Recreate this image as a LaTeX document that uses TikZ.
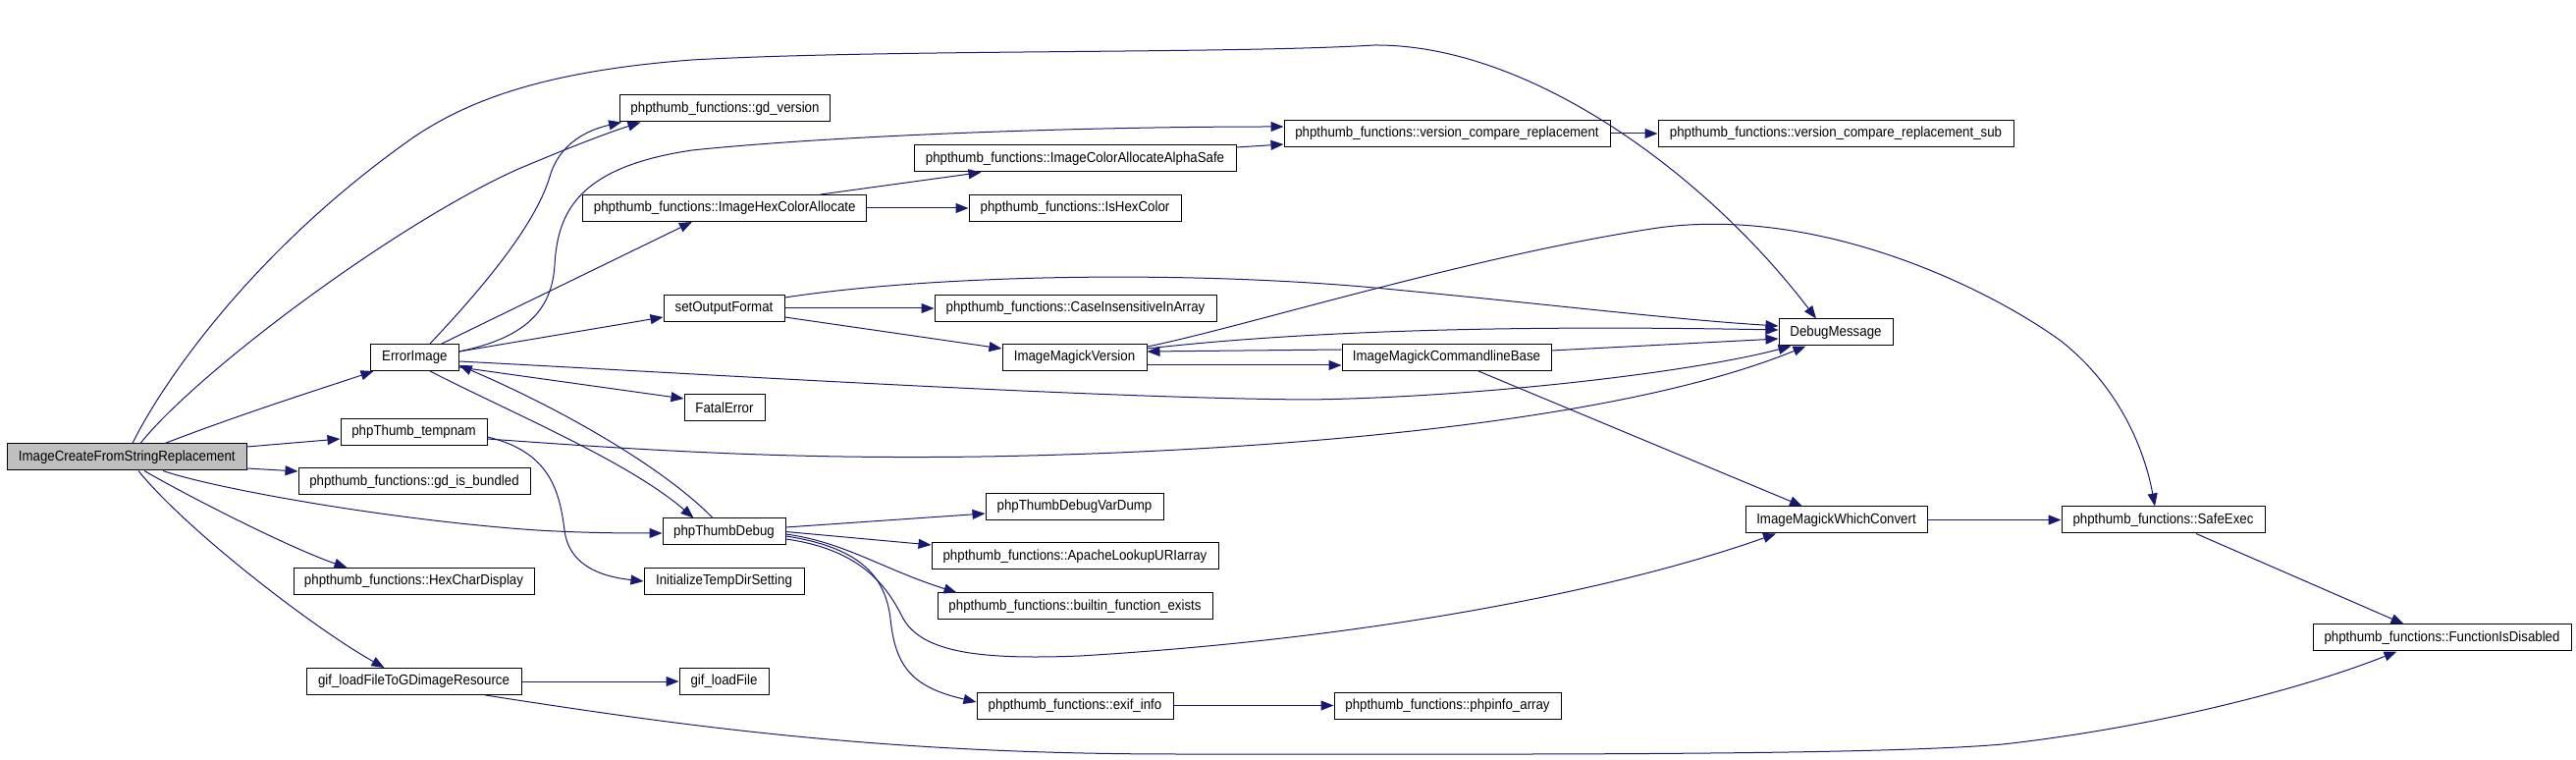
\documentclass[tikz,border=0pt]{standalone}
\usepackage{fontspec}
\setmainfont[FakeStretch=0.91]{Liberation Sans}
\usetikzlibrary{arrows.meta}
\definecolor{edgeblue}{HTML}{191970}
\definecolor{rootgray}{HTML}{BFBFBF}
\begin{document}
\begin{tikzpicture}[x=0.5pt,y=-0.5pt,
  fn/.style={draw=black, line width=0.5pt, fill=white, inner sep=0pt, minimum height=13.5pt, font=\fontsize{7.3pt}{8.5pt}\selectfont},
  e/.style={draw=edgeblue, line width=0.5pt, -{Triangle[length=6.5pt,width=5pt]}, edgeblue}]
\useasboundingbox (0,0) rectangle (2624,774);
% nodes
\node[fn, minimum width=121.7pt, fill=rootgray] (IC) at (129.3,465.5) {ImageCreateFromStringReplacement};
\node[fn, minimum width=44.8pt] (EI) at (422.4,364) {ErrorImage};
\node[fn, minimum width=106.9pt] (GDV) at (738.5,110.5) {phpthumb\_functions::gd\_version};
\node[fn, minimum width=164pt] (IAAS) at (1095,161.5) {phpthumb\_functions::ImageColorAllocateAlphaSafe};
\node[fn, minimum width=144.75pt] (IHCA) at (738.2,212) {phpthumb\_functions::ImageHexColorAllocate};
\node[fn, minimum width=108pt] (IHC) at (1095,212) {phpthumb\_functions::IsHexColor};
\node[fn, minimum width=61.5pt] (SOF) at (737.5,314) {setOutputFormat};
\node[fn, minimum width=143.5pt] (CIIA) at (1095.5,314) {phpthumb\_functions::CaseInsensitiveInArray};
\node[fn, minimum width=73.5pt] (IMV) at (1094.5,364) {ImageMagickVersion};
\node[fn, minimum width=166pt] (VCR) at (1474,136) {phpthumb\_functions::version\_compare\_replacement};
\node[fn, minimum width=181pt] (VCRS) at (1870,136) {phpthumb\_functions::version\_compare\_replacement\_sub};
\node[fn, minimum width=58pt] (DM) at (1870,338.5) {DebugMessage};
\node[fn, minimum width=106.5pt] (IMCB) at (1473.5,364) {ImageMagickCommandlineBase};
\node[fn, minimum width=74.5pt] (TMP) at (421.5,440) {phpThumb\_tempnam};
\node[fn, minimum width=118pt] (GDB) at (422,490.5) {phpthumb\_functions::gd\_is\_bundled};
\node[fn, minimum width=122.5pt] (HCD) at (421.5,592) {phpthumb\_functions::HexCharDisplay};
\node[fn, minimum width=109.5pt] (GIFGD) at (421.5,694) {gif\_loadFileToGDimageResource};
\node[fn, minimum width=81.5pt] (ITD) at (737.5,592) {InitializeTempDirSetting};
\node[fn, minimum width=41pt] (FE) at (738,415) {FatalError};
\node[fn, minimum width=62.5pt] (PTD) at (737.5,541.5) {phpThumbDebug};
\node[fn, minimum width=90.5pt] (VD) at (1094.5,516) {phpThumbDebugVarDump};
\node[fn, minimum width=146pt] (ALU) at (1095,566.5) {phpthumb\_functions::ApacheLookupURIarray};
\node[fn, minimum width=140pt] (BFE) at (1095,617.5) {phpthumb\_functions::builtin\_function\_exists};
\node[fn, minimum width=45.5pt] (GLF) at (737.5,694) {gif\_loadFile};
\node[fn, minimum width=100pt] (EXIF) at (1095,718.5) {phpthumb\_functions::exif\_info};
\node[fn, minimum width=92.5pt] (IMWC) at (1870.5,529.5) {ImageMagickWhichConvert};
\node[fn, minimum width=115.5pt] (PHPI) at (1474.5,718.5) {phpthumb\_functions::phpinfo\_array};
\node[fn, minimum width=103.5pt] (SE) at (2203.5,529.5) {phpthumb\_functions::SafeExec};
\node[fn, minimum width=131.5pt] (FID) at (2487.5,649.5) {phpthumb\_functions::FunctionIsDisabled};
% edges from IC
\draw[e] ([xshift=2.85pt]IC.north) .. controls (160,400) and (250,260) .. (421,140) .. controls (480,100) and (560,72) .. (705,61) .. controls (900,50) and (1250,55) .. (1400,46) .. controls (1560,45) and (1740,180) .. ([xshift=-10pt]DM.north);
\draw[e] ([xshift=6.85pt]IC.north) .. controls (200,380) and (400,230) .. (526,173) .. controls (580,150) and (620,135) .. ([xshift=10.7pt]GDV.south west);
\draw[e] ([xshift=19.35pt]IC.north) .. controls (250,420) and (330,395) .. ([xshift=1.7pt]EI.south west);
\draw[e] ([yshift=5.25pt]IC.east) -- ([yshift=-3.5pt]TMP.west);
\draw[e] ([yshift=-5.75pt]IC.east) -- ([yshift=5.25pt]GDB.west);
\draw[e] ([xshift=18.35pt]IC.south) .. controls (220,498) and (400,530) .. (547,540) .. controls (600,543) and (640,543) .. ([yshift=-0.75pt]PTD.west);
\draw[e] ([xshift=8.85pt]IC.south) .. controls (200,510) and (300,560) .. ([xshift=27.5pt]HCD.north west);
\draw[e] ([xshift=5.85pt]IC.south) .. controls (190,540) and (320,640) .. ([xshift=40pt]GIFGD.north west);
% edges from ErrorImage
\draw[e] ([xshift=7.8pt]EI.north) .. controls (490,295) and (545,230) .. (560,180) .. controls (570,145) and (600,132) .. ([xshift=1pt]GDV.south west);
\draw[e] ([yshift=3pt]EI.east) .. controls (530,345) and (562,320) .. (565,270) .. controls (568,215) and (590,170) .. (705,153) .. controls (850,138) and (1100,129) .. ([yshift=3.5pt]VCR.west);
\draw[e] ([xshift=13.8pt]EI.north) -- ([xshift=56pt]IHCA.south west);
\draw[e] ([yshift=3pt]EI.east) -- ([yshift=-4.5pt]SOF.west);
\draw[e] ([yshift=-2pt]EI.east) .. controls (700,380) and (1100,405) .. (1331,407) .. controls (1500,405) and (1720,380) .. ([xshift=6.5pt]DM.south west);
\draw[e] ([yshift=2pt]EI.south east) -- ([yshift=4.5pt]FE.west);
\draw[e] ([xshift=7.8pt]EI.south) .. controls (520,420) and (640,470) .. ([xshift=16pt]PTD.north west);
\draw[e] ([xshift=-5.75pt]PTD.north) .. controls (680,480) and (580,420) .. ([yshift=-4pt]EI.east);
% others
\draw[e] ([xshift=48.9pt]IHCA.north) -- ([xshift=34.5pt]IAAS.south west);
\draw[e] (IHCA) -- (IHC);
\draw[e] ([yshift=5.75pt]IAAS.east) -- ([yshift=-5.5pt]VCR.west);
\draw[e] (VCR) -- (VCRS);
\draw[e] (SOF) -- (CIIA);
\draw[e] ([yshift=-4.5pt]SOF.east) -- ([yshift=4.5pt]IMV.west);
\draw[e] ([yshift=5.5pt]SOF.east) .. controls (950,280) and (1200,275) .. (1400,293) .. controls (1580,310) and (1700,325) .. ([yshift=3.25pt]DM.west);
\draw[e] ([yshift=4.5pt]IMV.east) .. controls (1300,340) and (1500,330) .. ([yshift=1.25pt]DM.west);
\draw[e] ([yshift=5.5pt]IMV.east) .. controls (1260,335) and (1500,260) .. (1689,232) .. controls (1850,210) and (2020,290) .. (2099,347) .. controls (2160,395) and (2185,460) .. ([xshift=-4.25pt]SE.north);
\draw[e] ([yshift=-4pt]IMV.east) -- ([yshift=-4pt]IMCB.west);
\draw[e] ([yshift=4pt]IMCB.west) -- ([yshift=3pt]IMV.east);
\draw[e] ([yshift=3.5pt]IMCB.east) -- ([yshift=-3.25pt]DM.west);
\draw[e] ([xshift=16.25pt]IMCB.south) -- ([xshift=-17.25pt]IMWC.north);
\draw[e] ([yshift=-3.5pt]TMP.east) .. controls (650,458) and (800,468) .. (1000,465) .. controls (1300,460) and (1650,430) .. ([xshift=14pt]DM.south west);
\draw[e] ([yshift=-2.5pt]TMP.east) .. controls (560,460) and (570,500) .. (575,540) .. controls (580,580) and (620,588) .. (ITD.west);
\draw[e] ([yshift=2.25pt]PTD.east) -- ([yshift=-3.5pt]VD.west);
\draw[e] (PTD.east) -- ([yshift=5.75pt]ALU.west);
\draw[e] ([yshift=-1.25pt]PTD.east) .. controls (860,552) and (900,580) .. ([xshift=10pt]BFE.north west);
\draw[e] ([yshift=-2.25pt]PTD.east) .. controls (880,558) and (902,590) .. (907,630) .. controls (912,680) and (930,700) .. ([yshift=1.75pt]EXIF.west);
\draw[e] ([yshift=-3.75pt]PTD.east) .. controls (880,560) and (905,600) .. (920,630) .. controls (940,665) and (1000,672) .. (1100,668) .. controls (1400,650) and (1650,600) .. ([xshift=-30.75pt]IMWC.south);
\draw[e] (EXIF) -- (PHPI);
\draw[e] (IMWC) -- (SE);
\draw[e] ([xshift=16.75pt]SE.south) -- ([xshift=46.5pt]FID.north west);
\draw[e] (GIFGD) -- (GLF);
\draw[e] ([xshift=-18.5pt]GIFGD.south east) .. controls (700,740) and (900,768) .. (1200,768) .. controls (1500,768) and (1900,770) .. (2040,758) .. controls (2200,740) and (2350,700) .. ([xshift=43pt]FID.south west);
\end{tikzpicture}
\end{document}
